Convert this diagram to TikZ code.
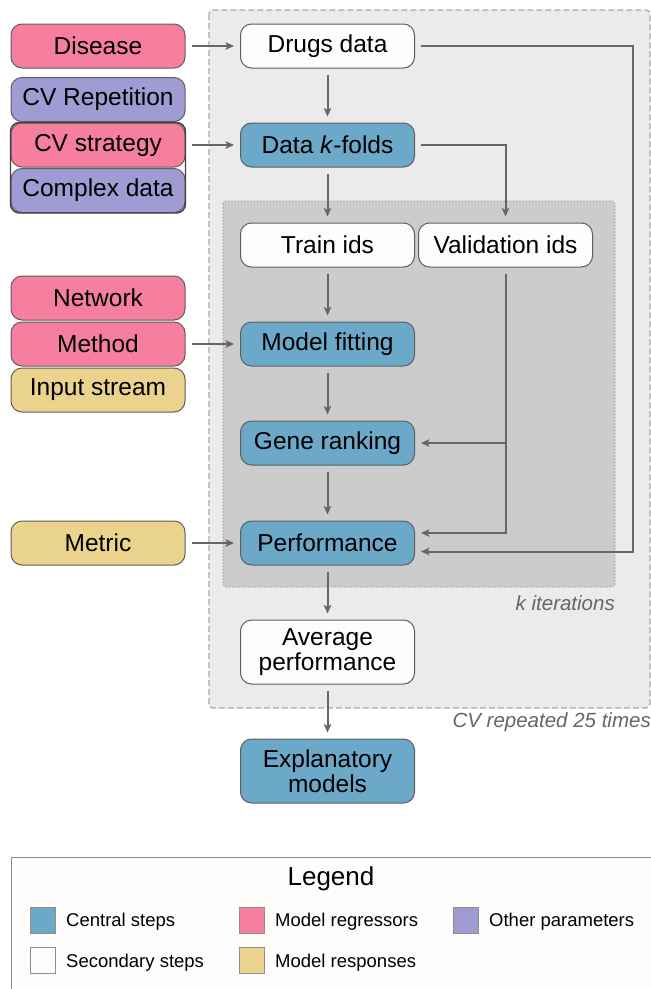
\documentclass[tikz,border=0pt]{standalone}
\usepackage{fontspec}
\setmainfont{Liberation Sans}
\usetikzlibrary{arrows.meta,calc}

\definecolor{central}{HTML}{6CA8C8}
\definecolor{regress}{HTML}{F67E9E}
\definecolor{otherp}{HTML}{A09BD3}
\definecolor{respon}{HTML}{EAD38D}
\definecolor{second}{HTML}{FEFDFB}
\definecolor{boxline}{HTML}{5E5E5E}
\definecolor{arrgray}{HTML}{666666}
\definecolor{cvfill}{HTML}{EBEBEB}
\definecolor{kfill}{HTML}{CCCCCC}
\definecolor{framegray}{HTML}{AAAAAA}
\definecolor{labgray}{HTML}{666666}

\tikzset{
  stepbox/.style={draw=boxline, line width=1pt, rounded corners=11pt,
    minimum width=174pt, minimum height=44pt, inner sep=0pt, align=center,
    font=\fontsize{24.5}{25}\selectfont},
  tallbox/.style={stepbox, minimum height=64pt},
  arr/.style={draw=arrgray, line width=2pt,
    -{Stealth[length=8.5pt,width=7.5pt,inset=2pt]},
    shorten <=6pt, shorten >=6pt},
  swatch/.style={draw=boxline!70, line width=1pt, minimum width=25pt,
    minimum height=26pt, inner sep=0pt},
  legtext/.style={anchor=west, inner sep=0pt, font=\fontsize{18.5}{20}\selectfont},
  itlab/.style={anchor=east, inner sep=0pt, text=labgray,
    font=\fontsize{20.5}{22}\selectfont\itshape}
}

\begin{document}
\begin{tikzpicture}[x=1pt,y=-1pt]
\clip (0,0) rectangle (651,989);
\fill[white] (0,0) rectangle (651,989);

% cross-validation frames
\draw[framegray, line width=1.3pt, dash pattern=on 6pt off 3pt,
  fill=cvfill, rounded corners=4pt] (209,10) rectangle (650,708);
\draw[framegray, line width=1.2pt, dotted, fill=kfill,
  rounded corners=3pt] (223,201) rectangle (615,587);
\node[itlab] (kiter) at (615,603) {k iterations};
\node[itlab] (cvtimes) at (651,722) {CV repeated 25 times};

% parameter boxes
\node[stepbox, fill=regress] (disease) at (98,46) {Disease};
\node[stepbox, fill=otherp] (cvrep) at (98,99.5) {CV Repetition};
\node[stepbox, fill=regress] (cvstrat) at (98,145) {CV strategy};
\node[stepbox, fill=otherp] (complex) at (98,190.5) {Complex data};
\draw[black!75, line width=1.4pt, rounded corners=9pt]
  (cvstrat.north west) rectangle (complex.south east);
\node[stepbox, fill=regress] (network) at (98,298) {Network};
\node[stepbox, fill=regress] (method) at (98,344) {Method};
\node[stepbox, fill=respon] (input) at (98,390) {Input stream};
\node[stepbox, fill=respon] (metric) at (98,543) {Metric};

% pipeline steps
\node[stepbox, fill=second] (drugs) at (327.5,46) {Drugs data};
\node[stepbox, fill=central] (kfolds) at (327.5,145) {Data \textit{k}-folds};
\node[stepbox, fill=second] (train) at (327.5,245) {Train ids};
\node[stepbox, fill=second] (valid) at (505.5,245) {Validation ids};
\node[stepbox, fill=central] (fit) at (327.5,344) {Model fitting};
\node[stepbox, fill=central] (rank) at (327.5,443) {Gene ranking};
\node[stepbox, fill=central] (perf) at (327.5,543) {Performance};
\node[tallbox, fill=second] (avg) at (327.5,652) {Average\\performance};
\node[tallbox, fill=central] (expl) at (327.5,771) {Explanatory\\models};

\coordinate (rside) at (633,0);

% connectors
\draw[arr] (disease) -- (drugs);
\draw[arr] (cvstrat) -- (kfolds);
\draw[arr] (method) -- (fit);
\draw[arr] (metric) -- (perf);
\draw[arr] (drugs) -- (kfolds);
\draw[arr] (kfolds) -- (train);
\draw[arr] (train) -- (fit);
\draw[arr] (fit) -- (rank);
\draw[arr] (rank) -- (perf);
\draw[arr] (perf) -- (avg);
\draw[arr] (avg) -- (expl);
\draw[arr] (kfolds.east) -- (kfolds.east -| valid.north) -- (valid.north);
\draw[arr] (valid.south) -- ([yshift=10pt]perf.east -| valid.south)
  -- ([yshift=10pt]perf.east);
\draw[arr, shorten <=0pt] (rank.east -| valid.south) -- (rank.east);
\draw[arr] (drugs.east) -- (drugs.east -| rside)
  -- ([yshift=-8.5pt]perf.east -| rside) -- ([yshift=-8.5pt]perf.east);

% legend
\draw[draw=black!45, line width=1pt, fill=second] (11,857) rectangle (670,1010);
\node[inner sep=0pt, font=\fontsize{26}{28}\selectfont] (legtitle) at (331,879) {Legend};
\node[swatch, fill=central] (lc) at (42.5,920) {};
\node[legtext] (lct) at (66,922) {Central steps};
\node[swatch, fill=second] (ls) at (42.5,960.5) {};
\node[legtext] (lst) at (66,962.5) {Secondary steps};
\node[swatch, fill=regress] (lr) at (252,920) {};
\node[legtext] (lrt) at (275,922) {Model regressors};
\node[swatch, fill=respon] (lp) at (252,960.5) {};
\node[legtext] (lpt) at (275,962.5) {Model responses};
\node[swatch, fill=otherp] (lo) at (465.5,920) {};
\node[legtext] (lot) at (489,922) {Other parameters};
\end{tikzpicture}
\end{document}
